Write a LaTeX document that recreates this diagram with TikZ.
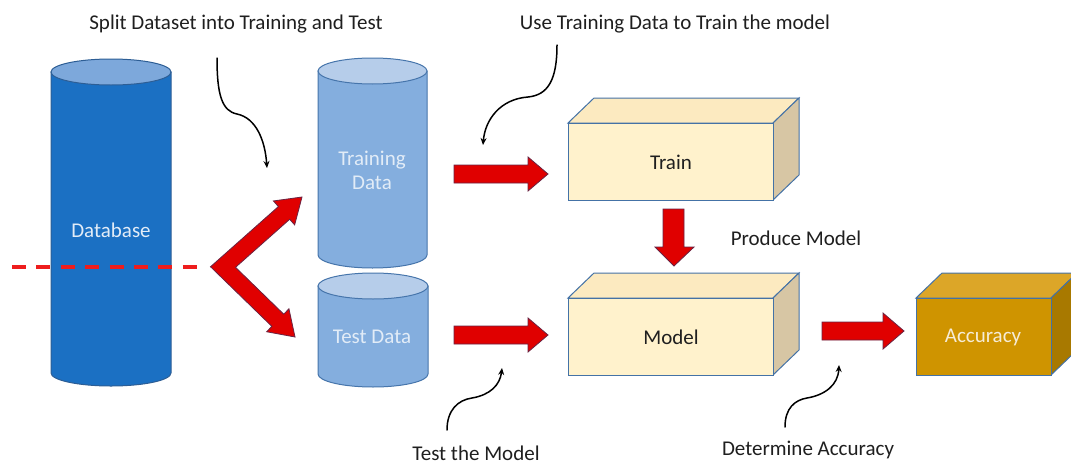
\documentclass[tikz,border=0pt]{standalone}
\usepackage{fontspec}
\setmainfont{Carlito}
\usetikzlibrary{calc,arrows.meta}

\definecolor{dbBody}{HTML}{1B70C3}
\definecolor{dbEnd}{HTML}{7DA8DB}
\definecolor{dbEdge}{HTML}{2D5E95}
\definecolor{splitBody}{HTML}{84AEDE}
\definecolor{splitEnd}{HTML}{B6CDEA}
\definecolor{splitEdge}{HTML}{4675AB}
\definecolor{cylText}{HTML}{E2ECF7}
\definecolor{boxFront}{HTML}{FFF2CC}
\definecolor{boxTop}{HTML}{FCEAC0}
\definecolor{boxSide}{HTML}{D7C6A4}
\definecolor{boxEdge}{HTML}{4472A6}
\definecolor{accFront}{HTML}{CF9400}
\definecolor{accTop}{HTML}{DCA628}
\definecolor{accSide}{HTML}{A87900}
\definecolor{accText}{HTML}{F6ECD6}
\definecolor{arrowRed}{HTML}{E00000}
\definecolor{arrowEdge}{HTML}{6A2342}
\definecolor{cutRed}{HTML}{EE1D1D}

% upright cylinder: left x, right x, top-centre y, bottom-centre y, body, end, edge
\newcommand{\drawdatacyl}[7]{%
  \pgfmathsetmacro\cylrx{(#2-#1)/2}%
  \filldraw[fill=#5, draw=#7, line width=1pt]
    (#1,#3) -- (#1,#4) arc[start angle=180, end angle=360, x radius=\cylrx pt, y radius=13pt]
    -- (#2,#3) -- cycle;
  \filldraw[fill=#6, draw=#7, line width=1pt]
    ({(#1+#2)/2},#3) ellipse[x radius=\cylrx pt, y radius=13pt];
}
% block in perspective: left, top, right, bottom of the front face, front, top, side colours
\newcommand{\drawblock}[7]{%
  \filldraw[fill=#6, draw=boxEdge, line width=1pt]
    (#1,#2) -- ++(26,-25) -- ({#3+26},{#2-25}) -- (#3,#2) -- cycle;
  \filldraw[fill=#7, draw=boxEdge, line width=1pt]
    (#3,#2) -- ++(26,-25) -- ({#3+26},{#4-25}) -- (#3,#4) -- cycle;
  \filldraw[fill=#5, draw=boxEdge, line width=1pt] (#1,#2) rectangle (#3,#4);
}

\begin{document}
\begin{tikzpicture}[x=1pt,y=-1pt,
  lbl/.style={font=\fontsize{21}{24}\selectfont, inner sep=0pt, text=black!88},
  inlbl/.style={lbl, text=cylText},
  curl/.style={line width=1.5pt, line cap=round, -{Stealth[length=7pt,width=6pt]}},
  blockarrow/.style={fill=arrowRed, draw=arrowEdge, line width=0.8pt, line join=miter},
  cutline/.style={draw=cutRed, line width=4pt, dash pattern=on 14pt off 10.4pt}
]
\useasboundingbox (0,0) rectangle (1071,466);
\clip (0,0) rectangle (1071,466);
\fill[white] (0,0) rectangle (1071,466);

% data stores
\drawdatacyl{51}{171}{72}{373}{dbBody}{dbEnd}{dbEdge}
\drawdatacyl{318}{427}{71}{255}{splitBody}{splitEnd}{splitEdge}
\drawdatacyl{318}{428}{286}{374}{splitBody}{splitEnd}{splitEdge}

% processing blocks
\drawblock{568}{123}{773}{200}{boxFront}{boxTop}{boxSide}
\drawblock{568}{298}{773}{375}{boxFront}{boxTop}{boxSide}
\drawblock{916}{298}{1051}{375}{accFront}{accTop}{accSide}

% block labels
\node[inlbl] (db) at (111,230) {Database};
\node[inlbl, align=center] (trdata) at (372,170) {Training\\Data};
\node[inlbl] (tedata) at (372,337) {Test Data};
\node[lbl] (train) at (671,162) {Train};
\node[lbl] (model) at (671,337) {Model};
\node[lbl, text=accText] (acc) at (983,337) {Accuracy};

% annotations
\node[lbl] (split) at (236,24) {Split Dataset into Training and Test};
\node[lbl] (use) at (675,24) {Use Training Data to Train the model};
\node[lbl] (produce) at (796,238) {Produce Model};
\node[lbl] (testm) at (476,453) {Test the Model};
\node[lbl] (determ) at (808,450) {Determine Accuracy};

% split line through the database
\coordinate (cutA) at (12,267);
\coordinate (cutB) at (200,267);
\draw[cutline] (cutA) -- (cutB);

% forked arrow: database to training and test sets
\coordinate (P) at (223,267);
\coordinate (T1) at (302,197);
\coordinate (T2) at (295,337);
\coordinate (H1) at ($(T1)!24pt!(P)$);
\coordinate (H2) at ($(T2)!24pt!(P)$);
\coordinate (H1o) at ($(H1)!8.5pt!90:(T1)$);
\coordinate (H1O) at ($(H1)!16pt!90:(T1)$);
\coordinate (H1i) at ($(H1)!8.5pt!-90:(T1)$);
\coordinate (H1I) at ($(H1)!16pt!-90:(T1)$);
\coordinate (P1o) at ($(P)!8.5pt!90:(T1)$);
\coordinate (P1i) at ($(P)!8.5pt!-90:(T1)$);
\coordinate (H2o) at ($(H2)!8.5pt!-90:(T2)$);
\coordinate (H2O) at ($(H2)!16pt!-90:(T2)$);
\coordinate (H2i) at ($(H2)!8.5pt!90:(T2)$);
\coordinate (H2I) at ($(H2)!16pt!90:(T2)$);
\coordinate (P2o) at ($(P)!8.5pt!-90:(T2)$);
\coordinate (P2i) at ($(P)!8.5pt!90:(T2)$);
\coordinate (Vout) at (intersection of H1o--P1o and H2o--P2o);
\coordinate (Vin) at (intersection of H1i--P1i and H2i--P2i);
\filldraw[blockarrow] (T1) -- (H1O) -- (H1o) -- (Vout) -- (H2o) -- (H2O) -- (T2)
  -- (H2I) -- (H2i) -- (Vin) -- (H1i) -- (H1I) -- cycle;

% block arrows between stages
\filldraw[blockarrow] (454,165) -- (528,165) -- (528,157) -- (548,174) -- (528,191) -- (528,183) -- (454,183) -- cycle;
\filldraw[blockarrow] (454,326) -- (528,326) -- (528,318) -- (548,335) -- (528,352) -- (528,344) -- (454,344) -- cycle;
\filldraw[blockarrow] (822,322) -- (883,322) -- (883,313) -- (904,331) -- (883,349) -- (883,340) -- (822,340) -- cycle;
\filldraw[blockarrow] (663,209) -- (663,247) -- (655,247) -- (674,266) -- (694,247) -- (684,247) -- (684,209) -- cycle;

% curly pointers from the annotations
\coordinate (c1s) at (217,58);  \coordinate (c1e) at (267,168);
\coordinate (c2s) at (557,45);  \coordinate (c2e) at (483,145);
\coordinate (c3s) at (447,430); \coordinate (c3e) at (502,368);
\coordinate (c4s) at (785,427); \coordinate (c4e) at (839,365);
\draw[curl] (c1s) .. controls (217,95) and (222,111) .. (237,114)
  .. controls (256,118) and (265,140) .. (c1e);
\draw[curl] (c2s) .. controls (557,80) and (548,95) .. (528,97)
  .. controls (500,99) and (485,120) .. (c2e);
\draw[curl] (c3s) .. controls (447,410) and (458,400) .. (472,398)
  .. controls (490,395) and (500,385) .. (c3e);
\draw[curl] (c4s) .. controls (785,408) and (795,400) .. (807,398)
  .. controls (825,395) and (838,385) .. (c4e);
\end{tikzpicture}
\end{document}
